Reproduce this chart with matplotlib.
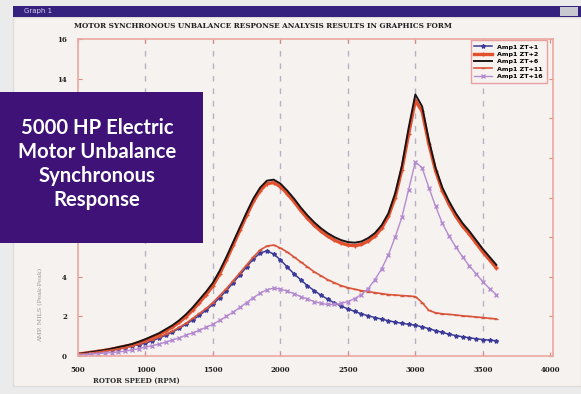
import numpy as np
import matplotlib
matplotlib.use("Agg")
import matplotlib.pyplot as plt
from matplotlib.patches import Rectangle

# rotor speed grid (RPM), 500 .. 3600 in 50 RPM steps
rpm = np.arange(500, 3650, 50)

amp1 = [0.1, 0.12, 0.15, 0.2, 0.25, 0.3, 0.35, 0.42, 0.5, 0.57,
        0.65, 0.77, 0.9, 1.05, 1.2, 1.4, 1.6, 1.82, 2.05, 2.32,
        2.6, 2.95, 3.3, 3.7, 4.1, 4.5, 4.9, 5.2, 5.3, 5.15,
        4.85, 4.5, 4.15, 3.85, 3.55, 3.3, 3.07, 2.87, 2.68, 2.52,
        2.38, 2.25, 2.13, 2.03, 1.94, 1.86, 1.78, 1.71, 1.65, 1.6,
        1.55, 1.47, 1.38, 1.28, 1.19, 1.1, 1.03, 0.97, 0.92, 0.87,
        0.83, 0.8, 0.77]
amp2 = [0.1, 0.14, 0.19, 0.24, 0.29, 0.35, 0.42, 0.49, 0.57, 0.68,
        0.8, 0.94, 1.08, 1.27, 1.46, 1.7, 1.98, 2.32, 2.7, 3.1,
        3.55, 4.15, 4.85, 5.6, 6.35, 7.1, 7.8, 8.35, 8.7, 8.75,
        8.55, 8.2, 7.8, 7.35, 6.95, 6.6, 6.3, 6.05, 5.85, 5.7,
        5.6, 5.57, 5.63, 5.8, 6.05, 6.45, 7.05, 8.0, 9.4, 11.2,
        12.9, 12.35, 10.7, 9.35, 8.35, 7.65, 7.05, 6.55, 6.15, 5.7,
        5.25, 4.85, 4.45]
amp3 = [0.1, 0.15, 0.2, 0.25, 0.3, 0.37, 0.45, 0.52, 0.6, 0.72,
        0.85, 1.0, 1.15, 1.35, 1.55, 1.8, 2.1, 2.45, 2.85, 3.25,
        3.7, 4.3, 5.0, 5.75, 6.5, 7.25, 7.95, 8.5, 8.85, 8.9,
        8.7, 8.35, 7.95, 7.5, 7.1, 6.75, 6.45, 6.2, 6.0, 5.85,
        5.75, 5.72, 5.78, 5.95, 6.2, 6.6, 7.2, 8.2, 9.6, 11.5,
        13.2, 12.6, 10.9, 9.5, 8.5, 7.8, 7.2, 6.7, 6.3, 5.85,
        5.4, 5.0, 4.6]
amp4 = [0.1, 0.12, 0.15, 0.2, 0.25, 0.3, 0.35, 0.42, 0.5, 0.6,
        0.72, 0.83, 0.95, 1.1, 1.25, 1.45, 1.65, 1.9, 2.15, 2.4,
        2.7, 3.05, 3.4, 3.8, 4.2, 4.6, 5.0, 5.35, 5.55, 5.6,
        5.45, 5.25, 5.0, 4.75, 4.5, 4.25, 4.05, 3.85, 3.7, 3.55,
        3.45, 3.37, 3.3, 3.25, 3.2, 3.15, 3.1, 3.08, 3.05, 3.03,
        3.0, 2.7, 2.3, 2.18, 2.13, 2.1, 2.07, 2.03, 2.0, 1.97,
        1.94, 1.9, 1.87]
amp5 = [0.05, 0.07, 0.1, 0.12, 0.15, 0.17, 0.2, 0.25, 0.3, 0.37,
        0.45, 0.52, 0.6, 0.7, 0.8, 0.92, 1.05, 1.17, 1.3, 1.45,
        1.6, 1.8, 2.0, 2.22, 2.45, 2.7, 2.95, 3.17, 3.35, 3.42,
        3.38, 3.27, 3.15, 3.0, 2.87, 2.75, 2.66, 2.6, 2.6, 2.65,
        2.75, 2.9, 3.1, 3.4, 3.85, 4.4, 5.1, 6.0, 7.0, 8.4,
        9.8, 9.5, 8.5, 7.55, 6.7, 6.05, 5.5, 5.0, 4.55, 4.15,
        3.75, 3.4, 3.1]

labels = ["Amp1 ZT+1", "Amp1 ZT+2", "Amp1 ZT+6", "Amp1 ZT+11", "Amp1 ZT+16"]
xticks = [500, 1000, 1500, 2000, 2500, 3000, 3500, 4000]
yticks = [0, 2, 4, 6, 8, 10, 12, 14, 16]
# 8..12 sit under the title card, so they get no label
ytick_labels = ["0", "2", "4", "6", "", "", "", "14", "16"]

W, H = 581, 394
fig = plt.figure(figsize=(W / 100, H / 100), dpi=100, facecolor="#ebebeb")

# window body and title bar (behind the axes)
fig.patches.append(Rectangle((13 / W, 0.02), 1 - 13 / W, 1 - 17 / H - 0.02,
                             transform=fig.transFigure, facecolor="#f6f2ef", edgecolor="#dcdcdc",
                             lw=1, zorder=-2))
fig.patches.append(Rectangle((13 / W, 1 - 17 / H), 1 - 13 / W, 11 / H,
                             transform=fig.transFigure, facecolor="#35217e", edgecolor="none", zorder=-2))
fig.patches.append(Rectangle((560 / W, 1 - 16 / H), 18 / W, 9 / H,
                             transform=fig.transFigure, facecolor="#c8c8d0", edgecolor="none", zorder=-1))
fig.text(24 / W, 1 - 11.5 / H, "Graph 1", color="#d8d0f0", fontsize=5, va="center")

ax = fig.add_axes([78 / W, 1 - 356 / H, (553 - 78) / W, (356 - 39) / H])
ax.set_facecolor("#f6f2ef")

ax.plot(rpm, amp1, color="#3c3c98", lw=1.1, marker="*", ms=3, label=labels[0])
ax.plot(rpm, amp2, color="#e2502e", lw=2.4, marker="+", ms=3.5, label=labels[1])
ax.plot(rpm, amp3, color="#1c1414", lw=1.4, label=labels[2])
ax.plot(rpm, amp4, color="#d8553c", lw=1.2, marker="_", ms=3.5, label=labels[3])
ax.plot(rpm, amp5, color="#b48ad0", lw=1.0, marker="x", ms=2.5, label=labels[4])

ax.set_xlim(500, 4020)
ax.set_ylim(0, 16)
ax.set_xticks(xticks)
ax.set_yticks(yticks)
ax.set_yticklabels(ytick_labels)
for x in xticks[1:-1]:
    ax.axvline(x, color="#b8b0c4", lw=1, ls=(0, (4, 5)), zorder=0)

for s in ax.spines.values():
    s.set_color("#eaa8a0")
    s.set_linewidth(1.2)
ax.tick_params(axis="both", direction="in", colors="#e08880", length=3,
               labelcolor="#202020", labelsize=5, right=True, top=True)
for lab in ax.get_xticklabels() + ax.get_yticklabels():
    lab.set_fontweight("bold")
    lab.set_family("DejaVu Serif")
ax.tick_params(axis="x", pad=7)
ax.tick_params(axis="y", pad=8)

fig.text(263 / W, 1 - 26 / H, "MOTOR SYNCHRONOUS UNBALANCE RESPONSE ANALYSIS RESULTS IN GRAPHICS FORM",
         ha="center", va="center", fontsize=5.2, fontweight="bold", family="DejaVu Serif", color="#202020")
fig.text(136 / W, 1 - 381 / H, "ROTOR SPEED (RPM)", ha="center", va="center",
         fontsize=5, fontweight="bold", family="DejaVu Serif", color="#303030")
fig.text(41 / W, 1 - 305 / H, "AMP. MILS (Peak-Peak)", ha="center", va="center", rotation=90,
         fontsize=4.5, family="DejaVu Serif", color="#9a9a9a")

leg = ax.legend(loc="upper right", bbox_to_anchor=(1 - 3 / 475, 1 + 2 / 317), fontsize=4.6,
                frameon=True, fancybox=False, edgecolor="#e8a0a0", facecolor="#f6f2ef",
                handlelength=2.8, labelspacing=0.3, borderpad=0.6, framealpha=1)
for t in leg.get_texts():
    t.set_fontweight("bold")

# title card
fig.patches.append(Rectangle((0, 1 - 243 / H), 203 / W, 151 / H,
                             transform=fig.transFigure, facecolor="#3e1277", edgecolor="none", zorder=5))
fig.text(97 / W, 1 - 164 / H, "5000 HP Electric\nMotor Unbalance\nSynchronous\nResponse",
         ha="center", va="center", color="white", fontsize=14.6, fontweight="bold",
         family="Lato", linespacing=1.27, zorder=6)

fig.savefig("out.png", dpi=100, facecolor=fig.get_facecolor())
